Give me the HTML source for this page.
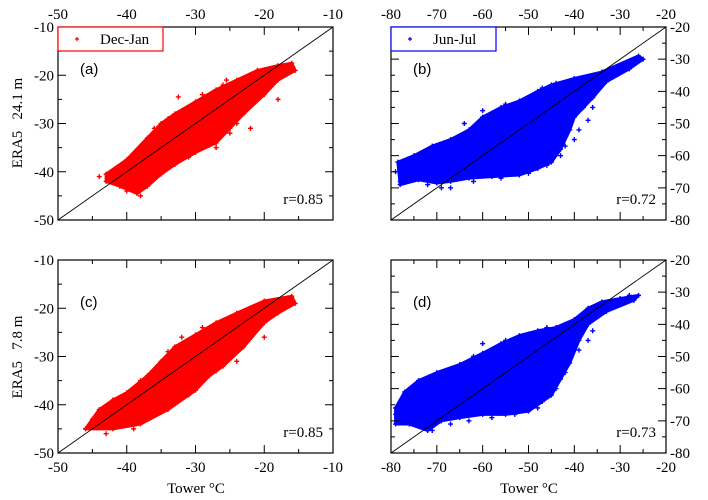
<!DOCTYPE html>
<html><head><meta charset="utf-8">
<style>
body{margin:0;background:#fff;}
svg{display:block;}
text{font-family:"Liberation Serif",serif;white-space:pre;}
.sans{font-family:"Liberation Sans",sans-serif;}
</style></head>
<body>
<svg id="chart" width="708" height="500" viewBox="0 0 708 500"></svg>
<script>
// ---- data (dense cloud given as outline, plus sparse outliers) ----
const cloudA = [[-43,-40.5],[-40,-37.5],[-37,-33],[-35,-30],[-33,-28],[-30,-25.5],[-27,-23],[-24,-21],[-21,-19],[-18,-18],[-16,-17.5],[-15.5,-19],[-18,-21],[-20,-24],[-23,-28],[-25,-31],[-27,-34],[-30,-36],[-33,-38.5],[-35,-40.5],[-37,-43],[-38.5,-44.5],[-41,-43],[-43,-42]];
const outA = [[-32.5,-24.5],[-25.5,-21],[-18,-25],[-22,-31],[-39,-39.5],[-42,-42],[-27,-35],[-24,-30],[-19,-22],[-34,-29],[-36,-31],[-29,-24],[-21,-20],[-17,-18.5],[-38,-45],[-40,-44],[-31,-37],[-28,-34.5],[-25,-32],[-22,-26],[-44,-41],[-20,-19],[-26,-22],[-35,-38]];
const cloudB = [[-78.5,-62],[-75,-60],[-71,-57],[-67,-55],[-63,-52],[-60,-48],[-56,-45],[-52,-43],[-48,-40],[-45,-38],[-40,-36],[-34,-34],[-26,-29],[-25,-30],[-28,-33],[-33,-37],[-36,-42],[-38,-45],[-40,-48],[-41,-52],[-43,-58],[-45,-62],[-48,-64],[-52,-66],[-58,-66.5],[-63,-67],[-67,-68],[-70,-68.5],[-74,-67.5],[-78,-69]];
const outB = [[-38,-41],[-36,-45],[-42,-57],[-60,-46],[-67,-70],[-69,-70],[-78,-68],[-31,-33],[-35,-36],[-40,-55],[-64,-50],[-58,-47],[-55,-44],[-47,-39],[-44,-37.5],[-73,-59],[-76,-61],[-79,-65],[-46,-63],[-50,-65.5],[-56,-67],[-62,-68],[-72,-69],[-37,-49],[-39,-52],[-43,-60],[-30,-32],[-27,-30]];
const cloudC = [[-44,-41],[-42,-39],[-40,-37.5],[-37,-34],[-35,-31],[-33,-28],[-30,-25.5],[-27,-23],[-24,-21],[-20,-18.5],[-16,-17.5],[-15.5,-19],[-18,-21],[-20,-23],[-23,-28],[-26,-32],[-28,-34],[-30,-37],[-34,-41],[-38,-44],[-42,-45],[-46,-45]];
const outC = [[-45,-43],[-32,-26],[-20,-26],[-24,-31],[-36,-42],[-40,-44],[-28,-34],[-38,-35],[-34,-29],[-29,-24],[-22,-20],[-18,-19],[-17,-20],[-43,-46],[-39,-45],[-31,-38],[-27,-33],[-25,-30],[-21,-23],[-41,-40]];
const cloudD = [[-79,-66],[-77,-61],[-74,-57.5],[-70,-55],[-65,-52.5],[-60,-49],[-56,-46],[-52,-43.5],[-48,-42],[-44,-41],[-40,-38.5],[-37,-35],[-34,-33],[-30,-32],[-26,-31],[-27,-32.5],[-33,-36],[-37,-40],[-39,-45],[-41,-52],[-43,-57],[-45,-62],[-47,-64],[-50,-67],[-55,-68],[-60,-68],[-65,-69],[-69,-70],[-72,-73],[-76,-71],[-79,-71]];
const outD = [[-37,-45],[-42,-55],[-45,-56],[-73,-72],[-71,-73],[-34,-36],[-30,-32],[-60,-46],[-75,-60],[-62,-50],[-55,-45],[-50,-43],[-46,-41],[-42,-40],[-39,-48],[-44,-60],[-48,-66],[-53,-68],[-58,-69],[-63,-70],[-67,-71],[-78,-69],[-79,-68],[-77,-63],[-36,-42],[-31,-34],[-28,-31]];
const ticksAC = [-50,-40,-30,-20,-10];
const ticksBD = [-80,-70,-60,-50,-40,-30,-20];
const rValues = ["r=0.85","r=0.72","r=0.85","r=0.73"];

const svg = document.getElementById('chart');
const NS = 'http://www.w3.org/2000/svg';
function mk(tag, attrs, parent){
  const e = document.createElementNS(NS, tag);
  for (const k in attrs) e.setAttribute(k, attrs[k]);
  (parent||svg).appendChild(e);
  return e;
}

function panel(cfg){
  const {L,R,T,B,ticks,cloud,out,color,label,r,name,showTop,showBottom,showLeft,showRight,legend} = cfg;
  const lo = ticks[0], hi = ticks[ticks.length-1];
  const sx = v => L + (v-lo)/(hi-lo)*(R-L);
  const sy = v => B - (v-lo)/(hi-lo)*(B-T);
  const g = mk('g',{});
  
  
  const poly = mk('polygon',{points: cloud.map(p=>sx(p[0])+','+sy(p[1])).join(' '), fill: color, stroke: color, 'stroke-width': 3, 'stroke-linejoin':'round'}, g);
  
  
  const pts = cloud.concat(out);
  pts.forEach(p=>{
    const x=sx(p[0]), y=sy(p[1]);
    const m = mk('path',{d:`M${x-2.5},${y}H${x+2.5}M${x},${y-2.5}V${y+2.5}`, stroke: color, 'stroke-width':1.4}, g);
    
    
  });
  const dl = mk('line',{x1:sx(lo),y1:sy(lo),x2:sx(hi),y2:sy(hi),stroke:'#000','stroke-width':0.9}, g);
  
  
  const fr = mk('rect',{x:L,y:T,width:R-L,height:B-T,fill:'none',stroke:'#000','stroke-width':1.2}, g);
  
  
  let d='';
  for (let i=0;i<ticks.length;i++){
    const v=ticks[i];
    const x=sx(v), y=sy(v);
    if (i>0 && i<ticks.length-1){
      d+=`M${x},${B}V${B-8}M${x},${T}V${T+8}M${L},${y}H${L+8}M${R},${y}H${R-8}`;
    }
    if (i<ticks.length-1){
      const m=(v+ticks[i+1])/2, xm=sx(m), ym=sy(m);
      d+=`M${xm},${B}V${B-4}M${xm},${T}V${T+4}M${L},${ym}H${L+4}M${R},${ym}H${R-4}`;
    }
  }
  mk('path',{d, stroke:'#000','stroke-width':1,fill:'none'}, g);
  ticks.forEach(v=>{
    if (showTop){ const t=mk('text',{x:sx(v),y:T-8,'text-anchor':'middle','font-size':15},g); t.textContent=v;
        }
    if (showBottom){ const t=mk('text',{x:sx(v),y:B+19,'text-anchor':'middle','font-size':15},g); t.textContent=v;
        }
    if (showLeft){ const t=mk('text',{x:L-4,y:sy(v)+5,'text-anchor':'end','font-size':15},g); t.textContent=v;
        }
    if (showRight){ const t=mk('text',{x:R+4,y:sy(v)+5,'text-anchor':'start','font-size':15},g); t.textContent=v;
        }
  });
  const pl = mk('text',{x:L+22,y:T+47,'font-size':15,class:'sans'},g); pl.textContent=label;
   
  const rt = mk('text',{x:R-10,y:B-16,'text-anchor':'end','font-size':15},g); rt.textContent=r;
   
  if (legend){
    const lg = mk('g',{},g);
    
    
    mk('rect',{x:L,y:T,width:105,height:24,fill:'#fff',stroke:color,'stroke-width':1.2},lg);
    const x=L+19,y=T+12;
    mk('path',{d:`M${x-2},${y}H${x+2}M${x},${y-2}V${y+2}`,stroke:color,'stroke-width':1.2},lg);
    const lt = mk('text',{x:L+42,y:T+17,'font-size':15},lg); lt.textContent=legend;
     
  }
}

panel({L:58,R:333,T:27,B:220,ticks:ticksAC,cloud:cloudA,out:outA,color:'#ff0000',label:'(a)',r:rValues[0],name:'panel-a',showTop:true,showLeft:true,legend:'Dec-Jan'});
panel({L:391,R:666,T:27,B:220,ticks:ticksBD,cloud:cloudB,out:outB,color:'#0000ff',label:'(b)',r:rValues[1],name:'panel-b',showTop:true,showRight:true,legend:'Jun-Jul'});
panel({L:58,R:333,T:260,B:453,ticks:ticksAC,cloud:cloudC,out:outC,color:'#ff0000',label:'(c)',r:rValues[2],name:'panel-c',showBottom:true,showLeft:true});
panel({L:391,R:666,T:260,B:453,ticks:ticksBD,cloud:cloudD,out:outD,color:'#0000ff',label:'(d)',r:rValues[3],name:'panel-d',showBottom:true,showRight:true});

function addText(txt,x,y,rot,name){
  const t=mk('text',{x,y,'text-anchor':'middle','font-size':15});
  if (rot) t.setAttribute('transform',`rotate(-90 ${x} ${y})`);
  t.textContent=txt;
  
  
}
addText('ERA5   24.1 m',22,123,true,'y-axis-title-top');
addText('ERA5   7.8 m',22,357,true,'y-axis-title-bottom');
addText('Tower °C',196,493,false,'x-axis-title-left');
addText('Tower °C',529,493,false,'x-axis-title-right');
</script>
</body></html>
